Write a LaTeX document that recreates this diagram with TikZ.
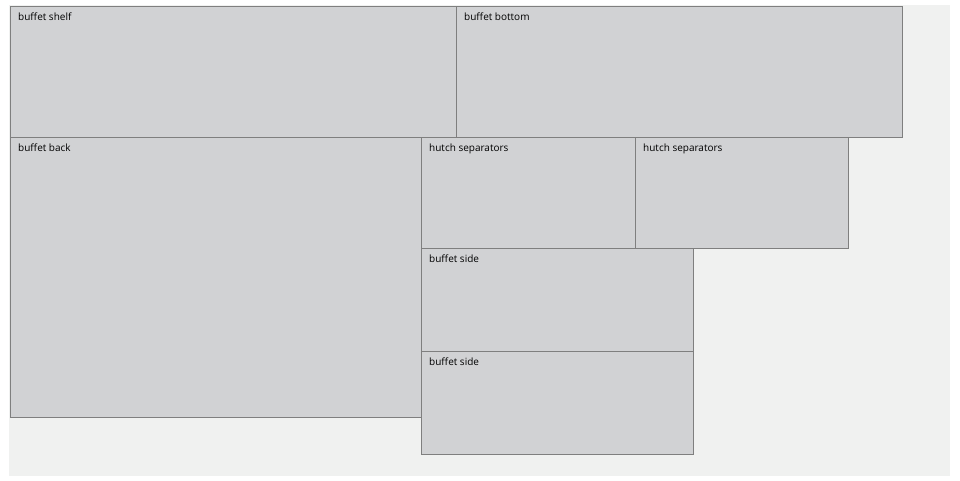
\documentclass[tikz,border=0pt]{standalone}
\usepackage{fontspec}
\setmainfont{Open Sans}
\definecolor{sheet}{HTML}{F0F1F0}
\definecolor{part}{HTML}{D1D2D4}
\definecolor{edge}{HTML}{7F7F7F}
\begin{document}
\begin{tikzpicture}[x=1pt,y=-1pt,
  part/.style={draw=edge,fill=part,line width=0.8pt},
  lbl/.style={anchor=north west,inner sep=0pt,font=\fontsize{10}{12}\selectfont}]
  \useasboundingbox (0,0) rectangle (960,480);
  %% the sheet
  \fill[sheet] (9,5) rectangle (950,476);
  %% parts: corner, corner, label
  \foreach \xa/\ya/\xb/\yb/\name in {10/6/456/137/buffet shelf,
      456/6/902/137/buffet bottom,
      10/137/421/417/buffet back,
      421/137/635/248/hutch separators,
      635/137/848/248/hutch separators,
      421/248/693/351/buffet side,
      421/351/693/454/buffet side}
  {
    \draw[part] (\xa,\ya) rectangle (\xb,\yb);
    \node[lbl] at (\xa+8,\ya+7) {\name};
  }
\end{tikzpicture}
\end{document}
